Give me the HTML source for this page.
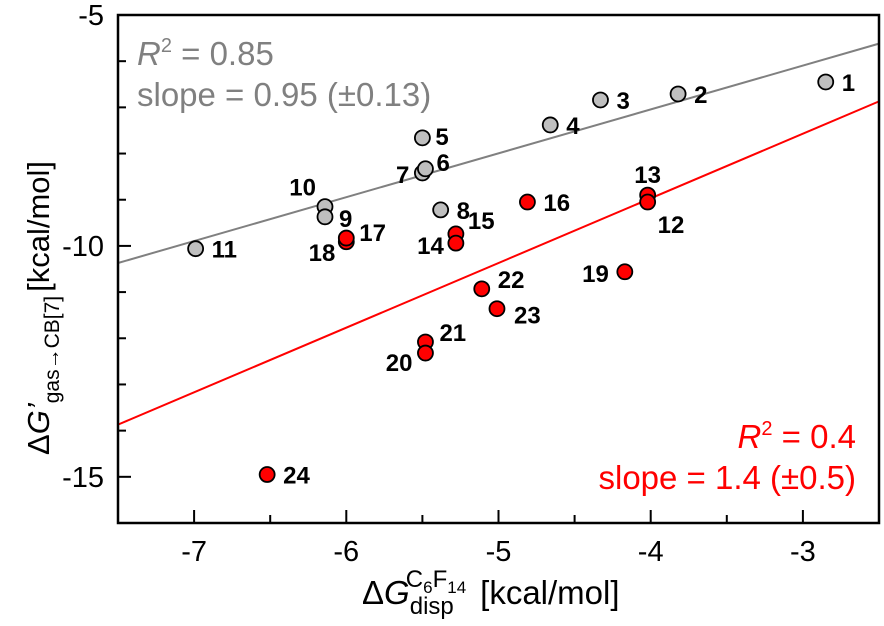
<!DOCTYPE html>
<html><head><meta charset="utf-8">
<style>
html,body{margin:0;padding:0;background:#fff;}
svg{display:block;font-family:"Liberation Sans",Arial,sans-serif;}
</style></head>
<body>
<svg id="chart" width="884" height="626" viewBox="0 0 884 626" xmlns="http://www.w3.org/2000/svg">
<g id="lines"></g>
<g id="axes"></g>
<g id="points"></g>
<text x="137" y="65" font-size="33" fill="#808080"><tspan font-style="italic">R</tspan><tspan font-size="20" dy="-13">2</tspan><tspan dy="13"> = 0.85</tspan></text>
<text x="137" y="106" font-size="33" fill="#808080">slope = 0.95 (±0.13)</text>
<text x="856" y="448" font-size="33" fill="#ff0000" text-anchor="end"><tspan font-style="italic">R</tspan><tspan font-size="20" dy="-13">2</tspan><tspan dy="13"> = 0.4</tspan></text>
<text x="856" y="489" font-size="33" fill="#ff0000" text-anchor="end">slope = 1.4 (±0.5)</text>
<text x="362" y="604" font-size="33" fill="#000">Δ<tspan font-style="italic">G</tspan><tspan font-size="24" dy="10">disp</tspan><tspan font-size="24" dx="-48" dy="-27">C</tspan><tspan font-size="17" dy="6">6</tspan><tspan font-size="24" dy="-6">F</tspan><tspan font-size="17" dy="6">14</tspan><tspan dy="11" dx="14">[kcal/mol]</tspan></text>
<text transform="translate(49,455) rotate(-90)" font-size="31" fill="#000">Δ<tspan font-style="italic">G’</tspan><tspan font-size="21" dy="10">gas→CB[7]</tspan><tspan dy="-10" dx="4">[kcal/mol]</tspan></text>
</svg>
<script>
const ids = ["1","2","3","4","5","6","7","8","9","10","11","12","13","14","15","16","17","18","19","20","21","22","23","24"];
const xVals = [-2.85,-3.82,-4.33,-4.66,-5.50,-5.48,-5.50,-5.38,-6.14,-6.14,-6.99,-4.02,-4.02,-5.28,-5.28,-4.81,-6.00,-6.00,-4.17,-5.48,-5.48,-5.11,-5.01,-6.52];
const yVals = [-6.45,-6.71,-6.84,-7.38,-7.66,-8.33,-8.42,-9.22,-9.37,-9.15,-10.06,-9.05,-8.90,-9.94,-9.74,-9.05,-9.83,-9.91,-10.56,-12.32,-12.08,-10.93,-11.36,-14.95];
const groups = ["g","g","g","g","g","g","g","g","g","g","g","r","r","r","r","r","r","r","r","r","r","r","r","r"];
const xTicks = [-7,-6,-5,-4,-3];
const yTicks = [-5,-10,-15];
const grayFit = [-10.37,0.95];
const redFit = [-13.87,1.4];

const NS="http://www.w3.org/2000/svg";
const X0=118,X1=879,Y0=15,Y1=523;
const xMin=-7.5,xMax=-2.5,yMin=-16,yMax=-5;
const sx=v=>X0+(v-xMin)/(xMax-xMin)*(X1-X0);
const sy=v=>Y1-(v-yMin)/(yMax-yMin)*(Y1-Y0);
function mk(tag,attrs,parent){const e=document.createElementNS(NS,tag);for(const k in attrs)e.setAttribute(k,attrs[k]);parent.appendChild(e);return e;}
const axes=document.getElementById('axes'),lines=document.getElementById('lines'),pts=document.getElementById('points');

let fr=mk('rect',{x:X0,y:Y0,width:X1-X0,height:Y1-Y0,fill:'none',stroke:'#000','stroke-width':2.5},axes);


for(let v=-7.5;v<=-2.5;v+=0.5){
  const major=Math.abs(v-Math.round(v))<1e-6;
  const t=mk('line',{x1:sx(v),x2:sx(v),y1:Y1,y2:Y1-(major?13:8),stroke:'#000','stroke-width':2},axes);
  
  
}
for(let v=-16;v<=-5;v+=1){
  const major=(v%5===0);
  const t=mk('line',{x1:X0,x2:X0+(major?13:8),y1:sy(v),y2:sy(v),stroke:'#000','stroke-width':2},axes);
  
  
}
xTicks.forEach(v=>{
  const t=mk('text',{x:sx(v),y:561,'font-size':29,'text-anchor':'middle',fill:'#000'},axes);
  t.textContent=String(v);
  
  
});
yTicks.forEach(v=>{
  const t=mk('text',{x:104,y:sy(v)+10,'font-size':29,'text-anchor':'end',fill:'#000'},axes);
  t.textContent=String(v);
  
  
});
function fitLine(fit,color,name){
  const f=x=>fit[0]+fit[1]*(x-xMin);
  const l=mk('line',{x1:sx(xMin),y1:sy(f(xMin)),x2:sx(xMax),y2:sy(f(xMax)),stroke:color,'stroke-width':2},lines);
  
  
}
fitLine(grayFit,'#808080','gray-fit-line');
fitLine(redFit,'#ff0000','red-fit-line');

const labelOff={"5":[13,7,'start'],"6":[11,2,'start'],"7":[-13,10,'end'],"9":[14,10,'start'],"10":[-9,-11,'end'],
"12":[10,31,'start'],"13":[0,-12,'middle'],"14":[-12,11,'end'],"15":[12,-5,'start'],"17":[13,3,'start'],
"18":[-11,19,'end'],"19":[-16,10,'end'],"20":[-13,18,'end'],"21":[14,-1,'start'],"22":[16,-1,'start'],"23":[17,15,'start']};
const order=[...ids.keys()].reverse();
order.forEach(i=>{
  const c=mk('circle',{cx:sx(xVals[i]),cy:sy(yVals[i]),r:7.5,fill:groups[i]==='g'?'#bfbfbf':'#ff0000',stroke:'#000','stroke-width':1.8},pts);
  
  
});
ids.forEach((id,i)=>{
  const o=labelOff[id]||[16,9,'start'];
  const t=mk('text',{x:sx(xVals[i])+o[0],y:sy(yVals[i])+o[1],'font-size':24,'font-weight':'bold','text-anchor':o[2],fill:'#000'},pts);
  t.textContent=id;
  
  
});
</script>
</body></html>
